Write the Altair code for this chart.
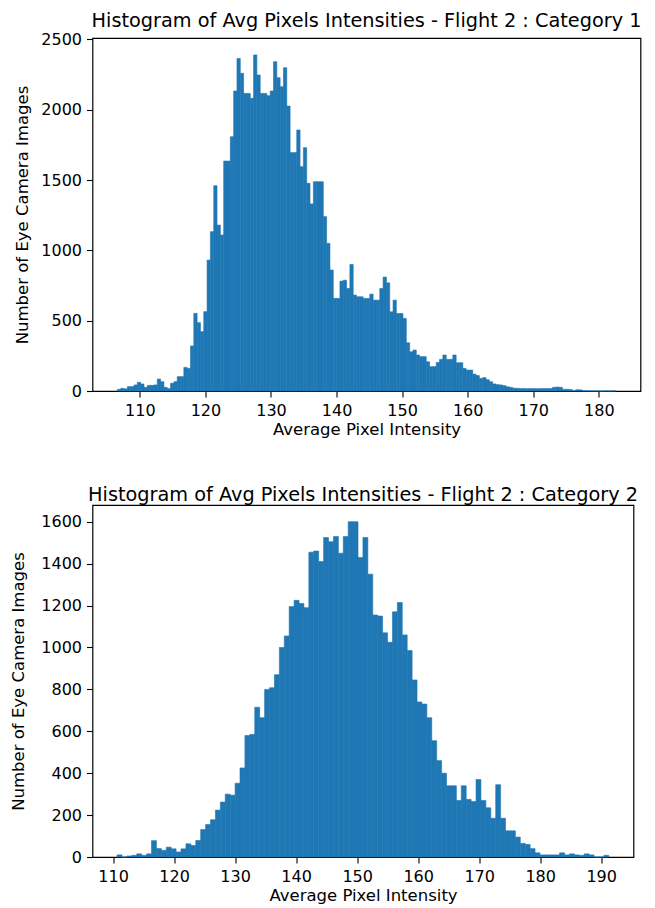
import altair as alt
import pandas as pd

# ---------------- data ----------------
top_title = "Histogram of Avg Pixels Intensities - Flight 2 : Category 1"
bottom_title = "Histogram of Avg Pixels Intensities - Flight 2 : Category 2"
x_label = "Average Pixel Intensity"
y_label = "Number of Eye Camera Images"

top_bin_start = 106.58
top_bin_width = 0.5065
top_counts = [
    12, 19, 15, 31, 31, 43, 62, 50, 26, 40,
    40, 43, 85, 66, 26, 17, 55, 66, 102, 102,
    168, 161, 320, 552, 486, 422, 564, 931, 1133, 1460,
    1180, 1109, 1635, 1635, 1808, 2133, 2365, 2259, 2116, 2116,
    2081, 2390, 2247, 2116, 2116, 2100, 2133, 2342, 2228, 2164,
    2299, 2026, 1695, 1695, 1856, 1595, 1730, 1477, 1330, 1488,
    1488, 1488, 1240, 1050, 860, 659, 658, 781, 788, 729,
    900, 682, 670, 670, 658, 658, 689, 646, 646, 729,
    810, 769, 563, 646, 551, 551, 516, 343, 279, 291,
    256, 244, 244, 208, 173, 173, 203, 225, 256, 225,
    225, 256, 201, 201, 161, 149, 149, 120, 110, 90,
    95, 80, 66, 50, 45, 43, 38, 30, 26, 20,
    19, 17, 17, 16, 17, 17, 16, 17, 17, 17,
    17, 26, 28, 26, 12, 12, 10, 3, 9, 8,
    2, 1, 1, 0, 1, 0, 0, 1, 0, 1,
]

bottom_bin_start = 110.65
bottom_bin_width = 0.806
bottom_counts = [
    10, 0, 5, 8, 15, 8, 15, 78, 40, 32,
    47, 39, 24, 39, 63, 55, 79, 131, 155, 178,
    224, 262, 300, 295, 352, 425, 580, 585, 715, 665,
    800, 808, 870, 1000, 1055, 1195, 1225, 1210, 1190, 1455,
    1460, 1410, 1525, 1505, 1530, 1450, 1530, 1600, 1600, 1430,
    1525, 1350, 1155, 1150, 1070, 1025, 1170, 1215, 1060, 985,
    845, 740, 730, 665, 555, 460, 400, 340, 340, 270,
    340, 275, 265, 370, 270, 235, 185, 345, 185, 125,
    125, 95, 65, 60, 40, 20, 10, 10, 10, 10,
    20, 10, 15, 10, 8, 15, 10, 0, 0, 8,
]

top_x_domain = [102.78, 186.36]
top_y_domain = [0, 2510]
top_x_ticks = [110, 120, 130, 140, 150, 160, 170, 180]
top_y_ticks = [0, 500, 1000, 1500, 2000, 2500]

bottom_x_domain = [106.62, 195.30]
bottom_y_domain = [0, 1680]
bottom_x_ticks = [110, 120, 130, 140, 150, 160, 170, 180, 190]
bottom_y_ticks = [0, 200, 400, 600, 800, 1000, 1200, 1400, 1600]

BAR = "#1f77b4"
FONT = "DejaVu Sans"


def hist_table(start, width, counts):
    rows = []
    for i, c in enumerate(counts):
        lo = start + i * width
        rows.append({"lo": lo, "hi": lo + width, "count": c, "base": 0})
    return pd.DataFrame(rows)


def hist_chart(df, title, xdom, ydom, xticks, yticks, w, h, ytitle_pad):
    return (
        alt.Chart(df)
        .mark_rect(color=BAR, stroke=BAR, strokeWidth=0.6)
        .encode(
            x=alt.X(
                "lo:Q",
                scale=alt.Scale(domain=xdom, nice=False, zero=False),
                axis=alt.Axis(values=xticks, title=x_label, format="d",
                              titlePadding=3),
            ),
            x2="hi:Q",
            y=alt.Y(
                "count:Q",
                scale=alt.Scale(domain=ydom, nice=False),
                axis=alt.Axis(values=yticks, title=y_label, format="d",
                              titlePadding=ytitle_pad),
            ),
            y2="base:Q",
        )
        .properties(
            width=w,
            height=h,
            title=alt.TitleParams(
                title, fontSize=19.3, font=FONT, fontWeight="normal",
                color="black", anchor="middle", frame="group", offset=0,
            ),
        )
    )


top = hist_chart(hist_table(top_bin_start, top_bin_width, top_counts),
                 top_title, top_x_domain, top_y_domain, top_x_ticks,
                 top_y_ticks, 548, 353, 10)
bottom = hist_chart(hist_table(bottom_bin_start, bottom_bin_width, bottom_counts),
                    bottom_title, bottom_x_domain, bottom_y_domain,
                    bottom_x_ticks, bottom_y_ticks, 541, 352, 14)

chart = (
    alt.concat(top, bottom, columns=1, spacing=46, align="none")
    .properties(padding={"left": 1.5, "top": 3, "right": 0, "bottom": 0},
                background="white")
    .configure_view(stroke="black", strokeWidth=1.2)
    .configure_axis(
        labelFont=FONT, titleFont=FONT, labelFontSize=16, titleFontSize=16.5,
        titleFontWeight="normal", labelColor="black", titleColor="black",
        tickColor="black", tickSize=6, tickWidth=1.1, labelPadding=5,
        grid=False, domain=False,
    )
)

chart.save("out.html", embed_options={"renderer": "svg", "actions": False})
